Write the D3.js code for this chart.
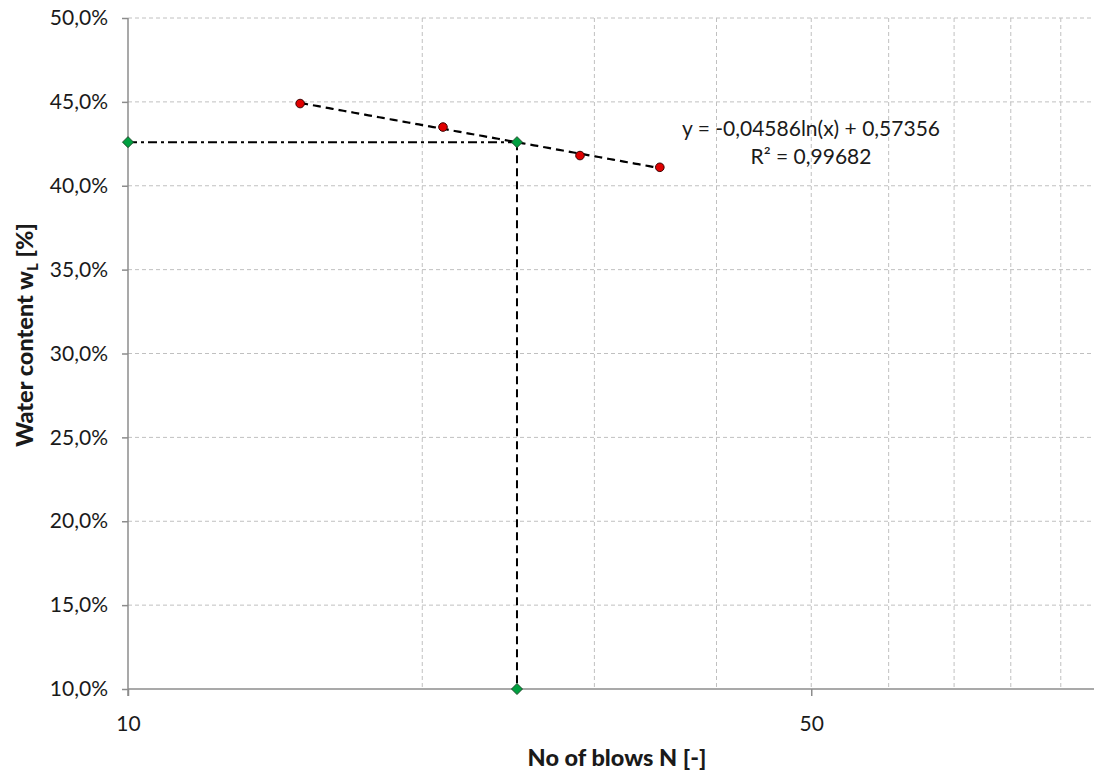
<!DOCTYPE html>
<html><head><meta charset="utf-8">
<script src="https://cdn.jsdelivr.net/npm/d3@7"></script>
<style>html,body{margin:0;padding:0;background:#fff;overflow:hidden}svg{display:block}</style>
</head><body>
<svg id="chart" width="1094" height="772"></svg>
<script>
// ---- data ----
const blows = [15, 21, 29, 35];
const waterContent = [0.449, 0.435, 0.418, 0.411];
const liquidLimitX = [10, 25, 25];
const liquidLimitY = [0.426, 0.426, 0.10];
const trendCoef = [-0.04586, 0.57356]; // y = a ln(x) + b
const trendRange = [15, 35];
const yTicks = [0.10, 0.15, 0.20, 0.25, 0.30, 0.35, 0.40, 0.45, 0.50];
const xMajorTicks = [10, 50];
const xGridTicks = [20, 30, 40, 50, 60, 70, 80, 90];
const eqText = "y = -0,04586ln(x) + 0,57356";
const r2Text = "R² = 0,99682";

(function () {
const svg = d3.select("#chart");
const mL = 128, mR = 1105.5, mT = 18, mB = 689;
const x = d3.scaleLog().domain([10, 100]).range([mL, mR]);
const y = d3.scaleLinear().domain([0.10, 0.50]).range([mB, mT]);
const loc = d3.formatLocale({decimal: ",", thousands: ".", grouping: [3], currency: ["", "€"], percent: "%"});
const pct = loc.format(".1%");
const font = "Lato, 'Open Sans', sans-serif";
const grid = "#c0c0c0", axisC = "#8c8c8c";

// grid
svg.append("g").selectAll("line").data(yTicks.filter(d => d > 0.10)).join("line")
  .attr("x1", mL).attr("x2", 1094).attr("y1", d => y(d)).attr("y2", d => y(d))
  .attr("stroke", grid).attr("stroke-width", 1).attr("stroke-dasharray", "4,3");
svg.append("g").selectAll("line").data(xGridTicks).join("line")
  .attr("x1", d => x(d)).attr("x2", d => x(d)).attr("y1", mT).attr("y2", mB)
  .attr("stroke", grid).attr("stroke-width", 1).attr("stroke-dasharray", "4,3");

// axes
const yAxis = svg.append("g").attr("transform", `translate(${mL},0)`)
  .call(d3.axisLeft(y).tickValues(yTicks).tickFormat(pct).tickSize(6).tickPadding(14));
const xAxis = svg.append("g").attr("transform", `translate(0,${mB})`)
  .call(d3.axisBottom(x).tickValues(xMajorTicks).tickFormat(d3.format("d")).tickSize(7).tickPadding(20));
[yAxis, xAxis].forEach(g => {
  g.select(".domain").attr("stroke", axisC).attr("stroke-width", 1.5);
  g.selectAll(".tick line").attr("stroke", axisC).attr("stroke-width", 1.5);
  g.selectAll(".tick text").attr("font-family", font).attr("font-size", 21).attr("fill", "#1a1a1a");
});
xAxis.select(".domain").attr("d", `M${mL},0H1094`);
yAxis.select(".domain").attr("d", `M0,${mT}V${mB + 7}`);

// axis titles
svg.append("text").attr("x", 617).attr("y", 766).attr("text-anchor", "middle")
  .attr("font-family", font).attr("font-weight", 900).attr("font-size", 23.5).attr("fill", "#1a1a1a")
  .text("No of blows N [-]");
const yt = svg.append("text").attr("transform", "translate(33,335) rotate(-90)").attr("text-anchor", "middle")
  .attr("font-family", font).attr("font-weight", 900).attr("font-size", 23.5).attr("fill", "#1a1a1a");
yt.append("tspan").text("Water content w");
yt.append("tspan").attr("font-size", 15).attr("dy", 5).text("L");
yt.append("tspan").attr("dy", -5).text(" [%]");

// trend line
const trendPts = d3.range(0, 101).map(i => {
  const xv = Math.exp(Math.log(trendRange[0]) + (Math.log(trendRange[1]) - Math.log(trendRange[0])) * i / 100);
  return [xv, trendCoef[0] * Math.log(xv) + trendCoef[1]];
});
const line = d3.line().x(d => x(d[0])).y(d => y(d[1]));
svg.append("path").attr("d", line(trendPts)).attr("fill", "none")
  .attr("stroke", "#000").attr("stroke-width", 2.2).attr("stroke-dasharray", "8,5");

// liquid limit construction lines
const ll = liquidLimitX.map((d, i) => [d, liquidLimitY[i]]);
svg.append("path").attr("d", line(ll.slice(0, 2))).attr("fill", "none")
  .attr("stroke", "#000").attr("stroke-width", 2).attr("stroke-dasharray", "9,4,3,4");
svg.append("path").attr("d", line(ll.slice(1, 3))).attr("fill", "none")
  .attr("stroke", "#000").attr("stroke-width", 2).attr("stroke-dasharray", "8,5");

// data points
svg.append("g").selectAll("circle").data(blows.map((d, i) => [d, waterContent[i]])).join("circle")
  .attr("cx", d => x(d[0])).attr("cy", d => y(d[1])).attr("r", 4.3)
  .attr("fill", "#e00000").attr("stroke", "#3a0000").attr("stroke-width", 1);
svg.append("g").selectAll("path").data(ll).join("path")
  .attr("transform", d => `translate(${x(d[0])},${y(d[1])})`)
  .attr("d", "M0,-5.5L5.5,0L0,5.5L-5.5,0Z")
  .attr("fill", "#00a040").attr("stroke", "#1d4d2a").attr("stroke-width", 1);

// equation label
svg.append("text").attr("x", 811).attr("y", 136).attr("text-anchor", "middle")
  .attr("font-family", font).attr("font-size", 21).attr("fill", "#1a1a1a").text(eqText);
svg.append("text").attr("x", 811).attr("y", 164).attr("text-anchor", "middle")
  .attr("font-family", font).attr("font-size", 21).attr("fill", "#1a1a1a").text(r2Text);
})();
</script>
</body></html>
